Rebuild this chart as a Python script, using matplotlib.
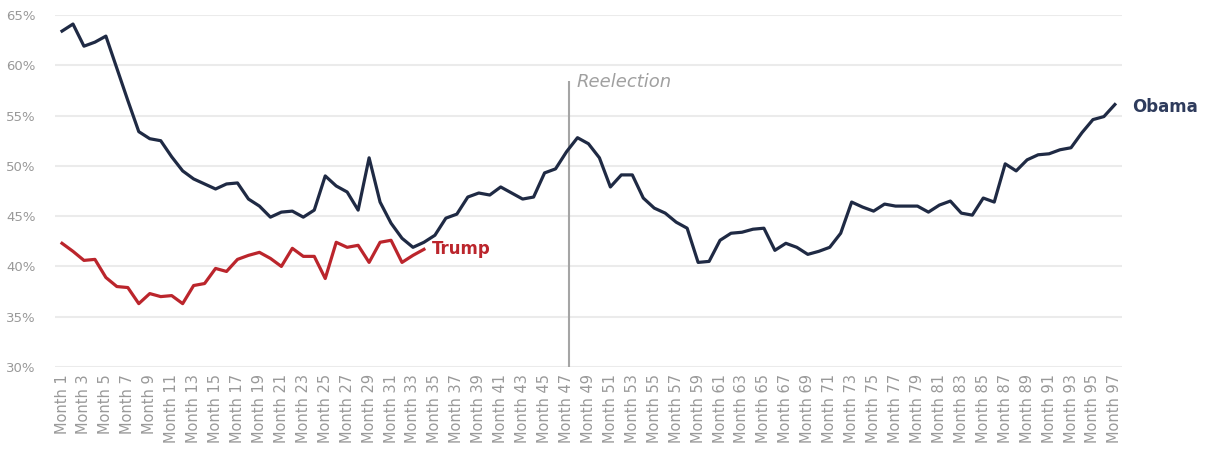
import matplotlib
matplotlib.use("Agg")
import matplotlib.pyplot as plt

months = [f"Month {i}" for i in range(1, 98)]

obama = [63.4, 64.1, 61.9, 62.3, 62.9, 59.7, 56.5, 53.4, 52.7, 52.5,
         50.9, 49.5, 48.7, 48.2, 47.7, 48.2, 48.3, 46.7, 46.0, 44.9,
         45.4, 45.5, 44.9, 45.6, 49.0, 48.0, 47.4, 45.6, 50.8, 46.4,
         44.3, 42.8, 41.9, 42.4, 43.1, 44.8, 45.2, 46.9, 47.3, 47.1,
         47.9, 47.3, 46.7, 46.9, 49.3, 49.7, 51.4, 52.8, 52.2, 50.8,
         47.9, 49.1, 49.1, 46.8, 45.8, 45.3, 44.4, 43.8, 40.4, 40.5,
         42.6, 43.3, 43.4, 43.7, 43.8, 41.6, 42.3, 41.9, 41.2, 41.5,
         41.9, 43.3, 46.4, 45.9, 45.5, 46.2, 46.0, 46.0, 46.0, 45.4,
         46.1, 46.5, 45.3, 45.1, 46.8, 46.4, 50.2, 49.5, 50.6, 51.1,
         51.2, 51.6, 51.8, 53.3, 54.6, 54.9, 56.1]

trump = [42.3, 41.5, 40.6, 40.7, 38.9, 38.0, 37.9, 36.3, 37.3, 37.0,
         37.1, 36.3, 38.1, 38.3, 39.8, 39.5, 40.7, 41.1, 41.4, 40.8,
         40.0, 41.8, 41.0, 41.0, 38.8, 42.4, 41.9, 42.1, 40.4, 42.4,
         42.6, 40.4, 41.1, 41.7]

yticks = [30, 35, 40, 45, 50, 55, 60, 65]
reelection_month = "Month 47"

OBAMA_C = "#1f2a44"
TRUMP_C = "#bb252c"
GRAY = "#999999"

fig = plt.figure(figsize=(12.12, 4.5), dpi=100)
ax = fig.add_axes([55 / 1212, 1 - 367 / 450, (1122 - 55) / 1212, (367 - 15) / 450])

xo = list(range(len(obama)))
xt = list(range(len(trump)))

for y in yticks:
    ax.axhline(y, color="#ebebeb", lw=1.5, zorder=0)

ax.plot(xo, obama, color=OBAMA_C, lw=2.3, solid_joinstyle="round", zorder=3)
ax.plot(xt, trump, color=TRUMP_C, lw=2.3, solid_joinstyle="round", zorder=3)

ri = months.index(reelection_month)
ax.vlines(ri + 0.2, 30, 58.4, color="#a5a5a5", lw=1.5, zorder=2)
ax.text(ri + 0.9, 58.3, "Reelection", style="italic", color="#a0a0a0",
        fontsize=13, ha="left", va="center")

ax.text(len(trump) - 1 + 0.75, trump[-1], "Trump", color=TRUMP_C,
        fontsize=12, fontweight="bold", ha="left", va="center")
ax.text(len(obama) - 1 + 1.55, obama[-1] - 0.25, "Obama", color="#2e3b5c",
        fontsize=12, fontweight="bold", ha="left", va="center", clip_on=False)

ax.set_ylim(30, 65)
ax.set_xlim(-0.64, 96.65)
ax.set_yticks(yticks)
ax.set_yticklabels([f"{v}%" for v in yticks])
ax.set_xticks(list(range(0, len(months), 2)))
ax.set_xticklabels(months[::2], rotation=90)

for s in ax.spines.values():
    s.set_visible(False)
ax.tick_params(axis="y", length=0, pad=14, labelsize=9.5, labelcolor=GRAY)
ax.tick_params(axis="x", length=0, pad=5, labelsize=10.5, labelcolor=GRAY)

fig.savefig("out.png", dpi=100)
